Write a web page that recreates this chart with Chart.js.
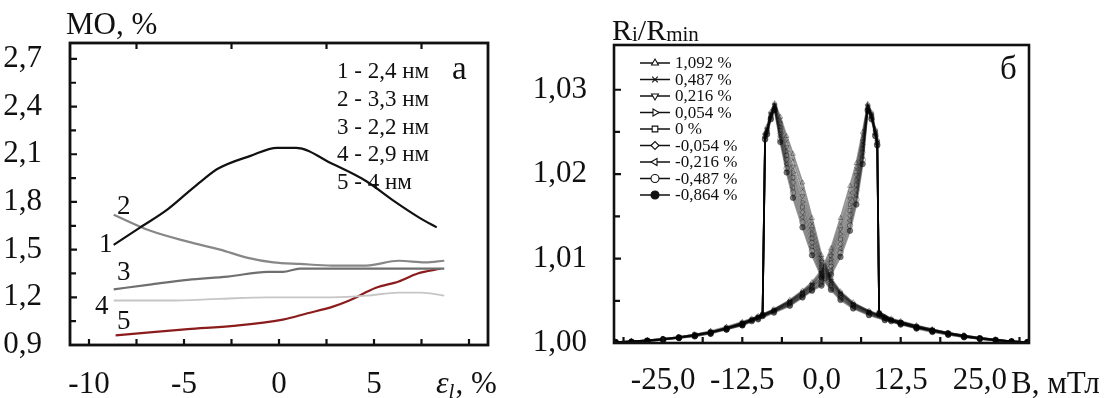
<!DOCTYPE html>
<html>
<head>
<meta charset="utf-8">
<script src="https://cdn.jsdelivr.net/npm/chart.js@4.4.1/dist/chart.umd.min.js"></script>
<style>
html, body { margin: 0; padding: 0; background: #fff; }
#wrap { position: relative; width: 1118px; height: 398px; overflow: hidden; }
canvas { position: absolute; top: 0; }
#chartA { left: 0; }
#chartB { left: 500px; }
</style>
</head>
<body>
<div id="wrap">
  <canvas id="chartA" width="560" height="398"></canvas>
  <canvas id="chartB" width="618" height="398"></canvas>
</div>
<script>
const SERIF = "'Liberation Serif', 'DejaVu Serif', serif";
const INK = '#111';
const TICK_FONT = 31;

// ---- Panel a: MO vs strain ----
const strain1 = [-8.7, -7.3, -5.9, -4.8, -4.1, -3.2, -1.5, -0.1, 0.9, 2.8, 4.6, 6.0, 7.4, 8.3];
const mo1 = [1.53, 1.64, 1.75, 1.86, 1.93, 2.01, 2.09, 2.14, 2.14, 2.04, 1.93, 1.81, 1.70, 1.64];
const strain2 = [-8.7, -6.8, -4.8, -3.1, -1.7, -0.3, 1.1, 2.8, 4.6, 6.3, 7.7, 8.7];
const mo2 = [1.72, 1.62, 1.55, 1.50, 1.45, 1.42, 1.41, 1.40, 1.40, 1.43, 1.42, 1.43];
const strain3 = [-8.7, -6.8, -4.8, -2.7, -0.6, 0.2, 1.1, 2.8, 5.0, 8.7];
const mo3 = [1.25, 1.28, 1.31, 1.33, 1.36, 1.36, 1.38, 1.38, 1.38, 1.38];
const strain4 = [-8.7, -5.8, -3.2, -0.6, 2.8, 4.6, 6.3, 7.5, 8.7];
const mo4 = [1.18, 1.18, 1.19, 1.20, 1.20, 1.21, 1.23, 1.23, 1.21];
const strain5 = [-8.6, -6.8, -4.8, -2.4, 0.2, 1.5, 2.8, 3.7, 5.1, 6.3, 7.3, 8.5];
const mo5 = [0.96, 0.98, 1.00, 1.02, 1.06, 1.10, 1.14, 1.18, 1.26, 1.30, 1.35, 1.38];

const curveNames = ['1 - 2,4 нм', '2 - 3,3 нм', '3 - 2,2 нм', '4 - 2,9 нм', '5 - 4 нм'];
const curveTags = ['1', '2', '3', '4', '5'];

const moTicks = [0.9, 1.05, 1.2, 1.35, 1.5, 1.65, 1.8, 1.95, 2.1, 2.25, 2.4, 2.55, 2.7];
const moLabels = ['0,9', '', '1,2', '', '1,5', '', '1,8', '', '2,1', '', '2,4', '', '2,7'];
const strainTicks = [-10, -7.5, -5, -2.5, 0, 2.5, 5, 7.5, 10];
const strainLabels = ['-10', '', '-5', '', '0', '', '5', '', ''];
const strainTopTicks = [-7.5, -2.5, 2.5, 7.5];

// ---- Panel б: Ri/Rmin vs B ----
const fieldDown = [32.5, 30, 27.5, 25, 22.5, 20, 17.5, 15, 12.5, 10, 7.5, 5, 3, 1.5, 0, -1.5, -3, -4.5, -5.5, -6.5, -7.4, -8.0, -8.6, -8.9, -9.3, -11, -12.5, -15, -17.5, -20, -22.5, -25, -27.5, -30, -32.5];
const fieldUp = [-32.5, -30, -27.5, -25, -22.5, -20, -17.5, -15, -12.5, -10, -7.5, -5, -3, -1.5, 0, 1.5, 3, 4.5, 5.5, 6.5, 7.3, 7.9, 8.5, 8.8, 9.1, 11, 12.5, 15, 17.5, 20, 22.5, 25, 27.5, 30, 32.5];

const down1092 = [1.0001,1.0002,1.0004,1.0006,1.0009,1.0012,1.0016,1.0020,1.0025,1.0031,1.0038,1.0048,1.0061,1.0077,1.0104,1.0148,1.0190,1.0224,1.0245,1.0268,1.0284,1.0274,1.0256,1.0249,1.0035,1.0029,1.0024,1.0019,1.0014,1.0010,1.0007,1.0005,1.0003,1.0002,1.0001];
const up1092   = [1.0001,1.0002,1.0003,1.0005,1.0007,1.0010,1.0014,1.0019,1.0025,1.0032,1.0040,1.0051,1.0062,1.0072,1.0086,1.0112,1.0148,1.0186,1.0213,1.0250,1.0283,1.0273,1.0253,1.0241,1.0037,1.0029,1.0026,1.0021,1.0016,1.0012,1.0009,1.0006,1.0004,1.0002,1.0001];
const down0487 = [1.0001,1.0002,1.0004,1.0006,1.0008,1.0011,1.0015,1.0019,1.0024,1.0030,1.0038,1.0047,1.0060,1.0075,1.0100,1.0141,1.0182,1.0217,1.0239,1.0264,1.0283,1.0272,1.0254,1.0247,1.0034,1.0028,1.0023,1.0018,1.0013,1.0010,1.0007,1.0005,1.0003,1.0001,1.0001];
const up0487   = [1.0001,1.0002,1.0003,1.0005,1.0007,1.0010,1.0013,1.0018,1.0024,1.0031,1.0040,1.0050,1.0061,1.0070,1.0083,1.0107,1.0141,1.0178,1.0206,1.0245,1.0282,1.0272,1.0252,1.0240,1.0036,1.0028,1.0025,1.0020,1.0016,1.0012,1.0009,1.0006,1.0004,1.0002,1.0001];
const down0216 = [1.0001,1.0002,1.0003,1.0005,1.0008,1.0011,1.0015,1.0019,1.0024,1.0030,1.0037,1.0046,1.0059,1.0074,1.0096,1.0135,1.0174,1.0209,1.0232,1.0260,1.0282,1.0271,1.0253,1.0246,1.0034,1.0028,1.0023,1.0018,1.0013,1.0009,1.0007,1.0004,1.0003,1.0002,1.0001];
const up0216   = [1.0001,1.0001,1.0003,1.0005,1.0007,1.0010,1.0013,1.0018,1.0024,1.0031,1.0039,1.0049,1.0060,1.0069,1.0081,1.0103,1.0135,1.0171,1.0199,1.0239,1.0281,1.0271,1.0251,1.0239,1.0036,1.0028,1.0025,1.0020,1.0015,1.0012,1.0008,1.0006,1.0004,1.0002,1.0001];
const down0054 = [1.0001,1.0002,1.0004,1.0006,1.0009,1.0012,1.0015,1.0019,1.0024,1.0030,1.0037,1.0046,1.0058,1.0072,1.0093,1.0129,1.0167,1.0202,1.0227,1.0256,1.0281,1.0270,1.0252,1.0246,1.0034,1.0028,1.0023,1.0018,1.0013,1.0010,1.0007,1.0005,1.0003,1.0002,1.0001];
const up0054   = [1.0001,1.0002,1.0003,1.0005,1.0007,1.0010,1.0013,1.0018,1.0024,1.0031,1.0039,1.0049,1.0059,1.0068,1.0078,1.0099,1.0129,1.0164,1.0193,1.0235,1.0280,1.0270,1.0250,1.0238,1.0036,1.0028,1.0025,1.0020,1.0016,1.0012,1.0009,1.0006,1.0004,1.0002,1.0001];
const down0    = [1.0001,1.0002,1.0003,1.0006,1.0008,1.0012,1.0015,1.0019,1.0023,1.0029,1.0036,1.0045,1.0057,1.0071,1.0090,1.0124,1.0161,1.0196,1.0222,1.0252,1.0280,1.0269,1.0251,1.0245,1.0033,1.0027,1.0022,1.0017,1.0013,1.0009,1.0007,1.0004,1.0003,1.0001,1.0001];
const up0      = [1.0001,1.0002,1.0003,1.0004,1.0007,1.0009,1.0013,1.0017,1.0023,1.0030,1.0038,1.0048,1.0058,1.0067,1.0076,1.0095,1.0123,1.0157,1.0187,1.0230,1.0279,1.0269,1.0249,1.0237,1.0035,1.0027,1.0024,1.0019,1.0015,1.0011,1.0008,1.0006,1.0004,1.0002,1.0001];
const downM0054 = [1.0001,1.0002,1.0004,1.0005,1.0008,1.0011,1.0015,1.0018,1.0023,1.0029,1.0036,1.0044,1.0056,1.0069,1.0087,1.0119,1.0155,1.0190,1.0217,1.0248,1.0279,1.0268,1.0250,1.0244,1.0033,1.0027,1.0022,1.0017,1.0012,1.0009,1.0006,1.0004,1.0003,1.0002,1.0001];
const upM0054   = [1.0001,1.0002,1.0003,1.0005,1.0006,1.0009,1.0012,1.0017,1.0023,1.0030,1.0038,1.0047,1.0057,1.0066,1.0074,1.0091,1.0117,1.0151,1.0181,1.0226,1.0278,1.0268,1.0248,1.0237,1.0035,1.0027,1.0024,1.0019,1.0015,1.0011,1.0008,1.0005,1.0003,1.0002,1.0001];
const downM0216 = [1.0001,1.0002,1.0003,1.0005,1.0008,1.0011,1.0014,1.0018,1.0023,1.0028,1.0035,1.0043,1.0054,1.0067,1.0084,1.0114,1.0149,1.0184,1.0212,1.0245,1.0278,1.0267,1.0249,1.0243,1.0033,1.0027,1.0022,1.0017,1.0012,1.0009,1.0006,1.0004,1.0002,1.0001,1.0001];
const upM0216   = [1.0001,1.0002,1.0003,1.0004,1.0006,1.0009,1.0012,1.0017,1.0022,1.0029,1.0037,1.0046,1.0056,1.0064,1.0072,1.0087,1.0112,1.0145,1.0175,1.0221,1.0277,1.0267,1.0247,1.0236,1.0035,1.0027,1.0024,1.0019,1.0014,1.0011,1.0008,1.0005,1.0003,1.0002,1.0001];
const downM0487 = [1.0001,1.0002,1.0003,1.0005,1.0007,1.0010,1.0014,1.0018,1.0022,1.0028,1.0034,1.0042,1.0053,1.0065,1.0081,1.0109,1.0143,1.0178,1.0207,1.0241,1.0277,1.0266,1.0248,1.0242,1.0032,1.0026,1.0021,1.0016,1.0012,1.0008,1.0006,1.0004,1.0002,1.0001,1.0001];
const upM0487   = [1.0001,1.0001,1.0003,1.0004,1.0006,1.0009,1.0012,1.0016,1.0022,1.0029,1.0037,1.0045,1.0055,1.0063,1.0070,1.0084,1.0107,1.0139,1.0170,1.0217,1.0276,1.0266,1.0246,1.0235,1.0034,1.0026,1.0023,1.0018,1.0014,1.0010,1.0008,1.0005,1.0003,1.0001,1.0001];
const downM0864 = [1.0001,1.0002,1.0003,1.0005,1.0007,1.0010,1.0013,1.0017,1.0022,1.0027,1.0033,1.0041,1.0051,1.0063,1.0078,1.0104,1.0137,1.0172,1.0202,1.0238,1.0276,1.0265,1.0247,1.0241,1.0032,1.0026,1.0021,1.0016,1.0011,1.0008,1.0006,1.0004,1.0002,1.0001,1.0001];
const upM0864   = [1.0001,1.0001,1.0002,1.0004,1.0006,1.0008,1.0011,1.0016,1.0021,1.0028,1.0036,1.0044,1.0054,1.0062,1.0068,1.0081,1.0102,1.0133,1.0164,1.0212,1.0275,1.0265,1.0245,1.0234,1.0034,1.0026,1.0023,1.0018,1.0014,1.0010,1.0007,1.0005,1.0003,1.0001,1.0001];

const strainNames = ['1,092 %', '0,487 %', '0,216 %', '0,054 %', '0 %', '-0,054 %', '-0,216 %', '-0,487 %', '-0,864 %'];
const loops = [
    [down1092, up1092], [down0487, up0487], [down0216, up0216], [down0054, up0054], [down0, up0],
    [downM0054, upM0054], [downM0216, upM0216], [downM0487, upM0487], [downM0864, upM0864]
];

const ratioTicks = [1.0, 1.005, 1.01, 1.015, 1.02, 1.025, 1.03];
const ratioLabels = ['1,00', '', '1,01', '', '1,02', '', '1,03'];
const fieldTicks = [-31.25, -25, -18.75, -12.5, -6.25, 0, 6.25, 12.5, 18.75, 25, 31.25];
const fieldLabels = ['', '-25,0', '', '-12,5', '', '0,0', '', '12,5', '', '25,0', ''];

// Marker styles for the 9 series
const markStyle = ['triangle', 'crossRot', 'triangle', 'triangle', 'rect', 'rectRot', 'triangle', 'circle', 'circle'];
const markRot = [0, 0, 180, 90, 0, 0, 270, 0, 0];
const markFilled = [false, false, false, false, false, false, false, false, true];

function pts(xs, ys) {
    return xs.map((x, i) => ({ x: x, y: ys[i] }));
}

function font(size, style) {
    return (style || '') + ' ' + size + 'px ' + SERIF;
}

// Inward ticks + closed frame, drawn from the scales
function framePlugin(cfg) {
    return {
        id: 'frame',
        afterDatasetsDraw(chart) {
            const { ctx, chartArea: a } = chart;
            const sx = chart.scales.x, sy = chart.scales.y;
            ctx.save();
            ctx.strokeStyle = INK;
            ctx.lineWidth = cfg.tickWidth;
            ctx.beginPath();
            sx.ticks.forEach(t => {
                const p = sx.getPixelForValue(t.value);
                ctx.moveTo(p, a.bottom);
                ctx.lineTo(p, a.bottom - cfg.tickLen);
            });
            (cfg.topTicks || []).forEach(v => {
                const p = sx.getPixelForValue(v);
                ctx.moveTo(p, a.top);
                ctx.lineTo(p, a.top + cfg.tickLen);
            });
            sy.ticks.forEach(t => {
                const p = sy.getPixelForValue(t.value);
                const l = t.label ? cfg.majorLen : cfg.tickLen;
                ctx.moveTo(a.left, p);
                ctx.lineTo(a.left + l, p);
            });
            ctx.stroke();
            ctx.lineWidth = cfg.frameWidth;
            ctx.strokeRect(a.left, a.top, a.right - a.left, a.bottom - a.top);
            ctx.restore();
        },
        afterDraw(chart) {
            chart.ctx.save();
            chart.ctx.fillStyle = INK;
            cfg.texts(chart.ctx, chart);
            chart.ctx.restore();
        }
    };
}

function drawMark(ctx, k, x, y, r) {
    ctx.fillStyle = markFilled[k] ? INK : '#fff';
    ctx.strokeStyle = INK;
    ctx.lineWidth = 1.1;
    if (Chart.helpers && Chart.helpers.drawPoint) {
        Chart.helpers.drawPoint(ctx, { pointStyle: markStyle[k], rotation: markRot[k], radius: r, borderWidth: 1.1 }, x, y);
    } else {
        ctx.beginPath();
        ctx.arc(x, y, r, 0, Math.PI * 2);
        ctx.fill();
        ctx.stroke();
    }
}

// ---- Chart a ----
const colorsA = ['#111111', '#878787', '#6f6f6f', '#c6c6c6', '#8c1c1c'];
const widthsA = [2.2, 2.2, 2.2, 1.8, 2.2];
const seriesA = [[strain1, mo1], [strain2, mo2], [strain3, mo3], [strain4, mo4], [strain5, mo5]];

new Chart(document.getElementById('chartA'), {
    type: 'scatter',
    data: {
        datasets: seriesA.map((s, i) => ({
            label: curveNames[i],
            data: pts(s[0], s[1]),
            showLine: true,
            borderColor: colorsA[i],
            borderWidth: widthsA[i],
            pointRadius: 0,
            cubicInterpolationMode: 'monotone'
        }))
    },
    options: {
        responsive: false,
        animation: false,
        layout: { padding: { top: 43, right: 72, left: 0, bottom: 0 } },
        plugins: { legend: { display: false }, tooltip: { enabled: false } },
        scales: {
            x: {
                type: 'linear', min: -11, max: 11,
                afterBuildTicks: s => { s.ticks = strainTicks.map(v => ({ value: v })); },
                afterFit: s => { s.height = 53; },
                grid: { display: false }, border: { display: false },
                ticks: { color: INK, font: { family: SERIF, size: TICK_FONT }, padding: 13, maxRotation: 0, autoSkip: false,
                    callback: (v, i) => strainLabels[i] }
            },
            y: {
                min: 0.9, max: 2.8,
                afterBuildTicks: s => { s.ticks = moTicks.map(v => ({ value: v })); },
                afterFit: s => { s.width = 70; },
                grid: { display: false }, border: { display: false },
                ticks: { color: INK, font: { family: SERIF, size: TICK_FONT }, padding: 20, autoSkip: false,
                    callback: (v, i) => moLabels[i] }
            }
        }
    },
    plugins: [framePlugin({
        tickWidth: 2.2, tickLen: 6, majorLen: 7, frameWidth: 2.8, topTicks: strainTopTicks,
        texts(ctx, chart) {
            const sx = chart.scales.x;
            ctx.textBaseline = 'alphabetic';
            ctx.textAlign = 'left';
            ctx.font = font(31);
            ctx.fillText('МО, %', 66, 34);
            ctx.textBaseline = 'middle';
            ctx.font = font(23);
            const rows = [72, 100, 128, 155, 183];
            curveNames.forEach((n, i) => ctx.fillText(n, 337, rows[i]));
            ctx.font = font(33);
            ctx.fillText('а', 452, 70);
            // curve numbers
            ctx.font = font(27);
            const tagPos = [[99, 245], [117, 207], [117, 273], [95, 307], [117, 322]];
            curveTags.forEach((t, i) => ctx.fillText(t, tagPos[i][0], tagPos[i][1]));
            // axis title in place of the "10" label
            const x0 = sx.getPixelForValue(10) - 33;
            const yb = 393;
            ctx.textBaseline = 'alphabetic';
            ctx.font = font(32, 'italic');
            ctx.fillText('ε', x0, yb);
            let w = ctx.measureText('ε').width;
            ctx.font = font(21, 'italic');
            ctx.fillText('l', x0 + w, yb + 5);
            w += ctx.measureText('l').width + 1;
            ctx.font = font(31);
            ctx.fillText(', %', x0 + w, yb);
        }
    })]
});

// ---- Chart б ----
new Chart(document.getElementById('chartB'), {
    type: 'scatter',
    data: {
        datasets: strainNames.map((name, k) => ({
            label: name,
            data: pts(fieldDown, loops[k][0]).concat(pts(fieldUp, loops[k][1])),
            showLine: true,
            borderColor: 'rgba(0,0,0,0.42)',
            borderWidth: 1.8,
            pointStyle: markStyle[k],
            pointRotation: markRot[k],
            pointRadius: 2.8,
            pointBorderWidth: 1,
            pointBorderColor: 'rgba(0,0,0,0.33)',
            pointBackgroundColor: markFilled[k] ? 'rgba(0,0,0,0.5)' : 'rgba(255,255,255,0)'
        }))
    },
    options: {
        responsive: false,
        animation: false,
        layout: { padding: { top: 45, right: 89, left: 0, bottom: 0 } },
        plugins: { legend: { display: false }, tooltip: { enabled: false } },
        scales: {
            x: {
                type: 'linear', min: -32.75, max: 32.75,
                afterBuildTicks: s => { s.ticks = fieldTicks.map(v => ({ value: v })); },
                afterFit: s => { s.height = 55; },
                grid: { display: false }, border: { display: false },
                ticks: { color: INK, font: { family: SERIF, size: TICK_FONT }, padding: 11, maxRotation: 0, autoSkip: false,
                    callback: (v, i) => fieldLabels[i] }
            },
            y: {
                min: 1.0, max: 1.0353,
                afterBuildTicks: s => { s.ticks = ratioTicks.map(v => ({ value: v })); },
                afterFit: s => { s.width = 114; },
                grid: { display: false }, border: { display: false },
                ticks: { color: INK, font: { family: SERIF, size: TICK_FONT }, padding: 19, autoSkip: false,
                    callback: (v, i) => ratioLabels[i] }
            }
        }
    },
    plugins: [framePlugin({
        tickWidth: 2.2, tickLen: 6, majorLen: 7, frameWidth: 2.6,
        texts(ctx, chart) {
            const sx = chart.scales.x;
            const a = chart.chartArea;
            // y title Ri/Rmin
            ctx.textBaseline = 'alphabetic';
            ctx.textAlign = 'left';
            let x = a.left - 2;
            const yb = 40;
            [['R', 30, 0], ['i', 21, 1], ['/R', 30, 0], ['min', 21, 1]].forEach(p => {
                ctx.font = font(p[1]);
                ctx.fillText(p[0], x, yb + p[2]);
                x += ctx.measureText(p[0]).width;
            });
            ctx.textBaseline = 'middle';
            ctx.font = font(33);
            ctx.fillText('б', a.right - 29, 70);
            // legend: line + marker + text
            strainNames.forEach((n, k) => {
                const y = 63 + k * 16.5;
                const lx = a.left + 26;
                ctx.strokeStyle = INK;
                ctx.lineWidth = 1.5;
                ctx.beginPath();
                ctx.moveTo(lx, y);
                ctx.lineTo(lx + 30, y);
                ctx.stroke();
                drawMark(ctx, k, lx + 15, y, 4);
                ctx.fillStyle = INK;
                ctx.font = font(17);
                ctx.fillText(n, lx + 35, y + 1);
            });
            // x title after the last label
            ctx.font = font(31);
            ctx.textBaseline = 'alphabetic';
            const lx = sx.getPixelForValue(25) + ctx.measureText('25,0').width / 2 + 4;
            ctx.fillText('В, мТл', lx, 393);
        }
    })]
});
</script>
</body>
</html>
